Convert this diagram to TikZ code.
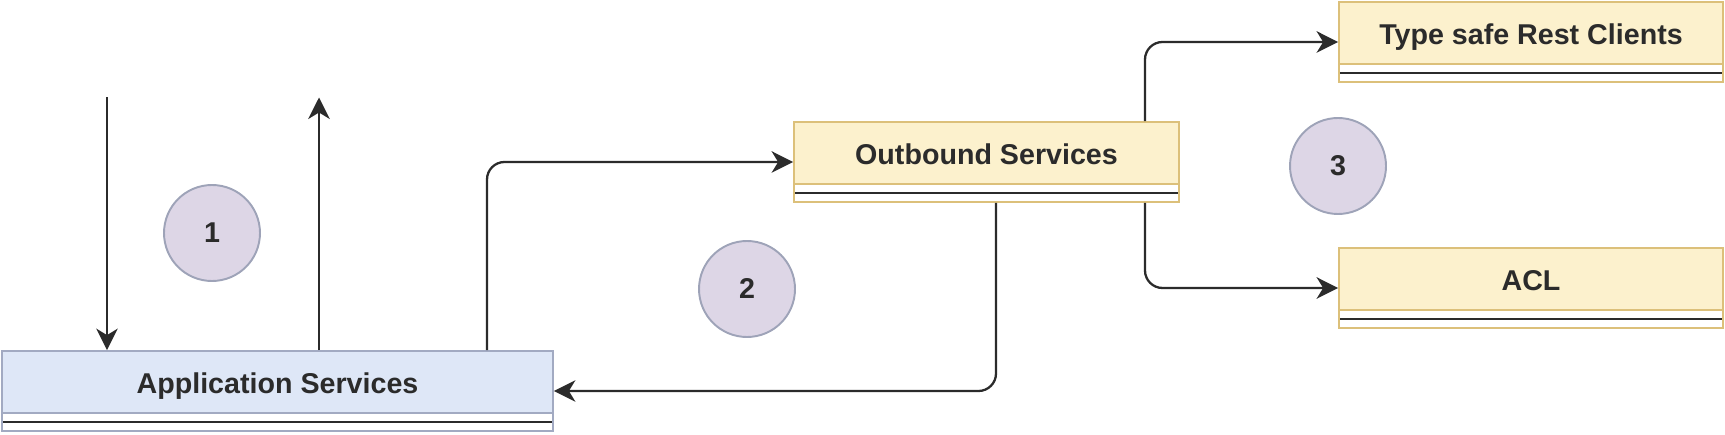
\documentclass[tikz,border=0pt]{standalone}
\usepackage{fontspec}
\setmainfont{Liberation Sans}
\usepackage{tikz}
\usetikzlibrary{positioning,arrows.meta,calc}
\definecolor{ink}{HTML}{2B2B2B}
\definecolor{sky}{HTML}{DEE7F7}
\definecolor{skyedge}{HTML}{A2AAC2}
\definecolor{sand}{HTML}{FCF1CD}
\definecolor{sandedge}{HTML}{DCC07A}
\definecolor{lilac}{HTML}{DDD6E6}
\definecolor{lilacedge}{HTML}{9EA3B8}
\tikzset{
  font=\bfseries\fontsize{16.3}{19}\selectfont,
  >={Stealth[length=4.3mm, width=4.3mm, inset=1.3mm]},
  boxedge/.store in = \boxedge,
  boxfill/.store in = \boxfill,
  listbox/.style = {draw=\boxedge, fill=white, line width=1pt, text=ink,
                  minimum height=16mm, text height=4.1mm, text depth=3.2mm,
                  path picture={
                    \fill[\boxfill] (path picture bounding box.north west)
                      rectangle ([yshift=3.6mm]path picture bounding box.south east);
                    \draw[\boxedge, line width=1pt]
                      ([yshift=3.6mm]path picture bounding box.south west)
                      -- ([yshift=3.6mm]path picture bounding box.south east);
                    \draw[ink, line width=1.1pt]
                      ([yshift=1.8mm]path picture bounding box.south west)
                      -- ([yshift=1.8mm]path picture bounding box.south east);
                  }},
  layer/.style = {boxedge=skyedge, boxfill=sky, listbox},
  port/.style  = {boxedge=sandedge, boxfill=sand, listbox},
  badge/.style = {circle, draw=lilacedge, fill=lilac, line width=1.1pt,
                  minimum size=19.2mm, inner sep=0pt, text=ink},
  flow/.style  = {->, draw=ink, line width=1.3pt, rounded corners=3.5mm},
}

\begin{document}
\begin{tikzpicture}
\useasboundingbox (0,0) rectangle (345mm,-87mm);

% ---------------- boxes -----------------------------------------------
\node[layer, minimum width=110.2mm] at (55.5mm, -78.2mm) (app)
  {Application Services};
\node[port, minimum width=77mm] at (197.3mm, -32.4mm) (out)
  {Outbound Services};
\node[port, minimum width=76.8mm] at (306.2mm, -8.4mm) (rest)
  {Type safe Rest Clients};
\node[port, minimum width=76.8mm] at (306.2mm, -57.6mm) (acl)
  {ACL};

% ---------------- numbered steps --------------------------------------
\node[badge] at (42.4mm, -46.6mm) (n1) {1};
\node[badge] at (149.4mm, -57.8mm) (n2) {2};
\node[badge] at (267.6mm, -33.2mm) (n3) {3};

% ---------------- calls -----------------------------------------------
\coordinate (callIn) at (21.4mm, -19.5mm);
\coordinate (callBack) at (63.8mm, -19.5mm);
\draw[flow] (callIn) -- (callIn |- app.north);
\draw[flow] (callBack |- app.north) -- (callBack);

\draw[flow] ([xshift=41.9mm]app.north) |- (out.west);
\draw[flow] ([xshift=1.9mm]out.south) |- (app.east);

% outbound fans out to the two adapters
\draw[flow] ([xshift=31.7mm]out.north) |- (rest.west);
\draw[flow] ([xshift=31.7mm]out.south) |- (acl.west);

\end{tikzpicture}
\end{document}
